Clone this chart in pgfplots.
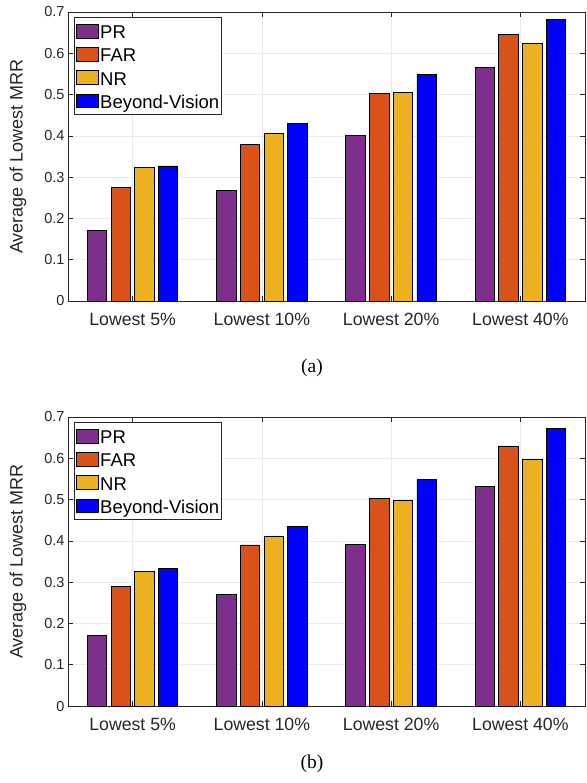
\documentclass[border=0pt]{standalone}
\usepackage{pgfplots}
\pgfplotsset{compat=1.18}
\usepackage{fontspec}
\setmainfont{Liberation Sans}
\newfontfamily\capfont{Liberation Serif}
\definecolor{mpurple}{HTML}{7E2F8E}
\definecolor{morange}{HTML}{D95319}
\definecolor{myellow}{HTML}{EDB120}
\definecolor{mblue}{HTML}{0000FF}
\definecolor{axgray}{HTML}{262626}
\definecolor{gridgray}{HTML}{EBEBEB}
\pgfplotsset{
  mybar/.style={fill=#1, draw=black, line width=0.8pt,
    legend image code/.code={\draw[##1] (0pt,-6.8pt) rectangle (22.6pt,6.8pt);}},
  myaxis/.style={
    scale only axis, width=517pt, height=289pt,
    ybar=4.3pt, bar width=19.4pt,
    xmin=0.5, xmax=4.5, ymin=0, ymax=0.7,
    xtick={1,2,3,4},
    xticklabels={Lowest 5\%, Lowest 10\%, Lowest 20\%, Lowest 40\%},
    ytick={0,0.1,...,0.7},
    yticklabels={0,0.1,0.2,0.3,0.4,0.5,0.6,0.7},
    xmajorgrids, ymajorgrids,
    major grid style={gridgray, line width=0.6pt},
    axis line style={axgray, line width=0.8pt},
    tick style={axgray, line width=0.6pt},
    major tick length=5pt,
    tick align=inside,
    x tick label style={font=\fontsize{17.7}{20}\selectfont, text=axgray, yshift=-8.5pt},
    y tick label style={font=\fontsize{14.5}{17}\selectfont, text=axgray},
    ylabel={Average of Lowest MRR},
    every axis y label/.style={at={(axis description cs:-0.0967,0.5)}, rotate=90, anchor=center,
      font=\fontsize{18}{21}\selectfont, text=axgray},
    legend cell align=left,
    legend style={at={(rel axis cs:0.0116,0.9817)}, anchor=north west,
      draw=axgray, line width=0.7pt, fill=white,
      font=\fontsize{18.5}{21}\selectfont,
      inner xsep=1.5pt, inner ysep=2pt, row sep=0.2pt,
      nodes={inner xsep=1pt, inner ysep=0pt, text height=19pt, text depth=4pt}},
  }
}
\begin{document}
\begin{tikzpicture}
\path[use as bounding box] (0pt,0pt) rectangle (586pt,-783pt);
\begin{axis}[myaxis, at={(68pt,-301pt)}, anchor=south west]
\addplot[mybar=mpurple] coordinates {(1,0.170) (2,0.268) (3,0.400) (4,0.565)};
\addplot[mybar=morange] coordinates {(1,0.275) (2,0.379) (3,0.502) (4,0.645)};
\addplot[mybar=myellow] coordinates {(1,0.324) (2,0.407) (3,0.506) (4,0.625)};
\addplot[mybar=mblue] coordinates {(1,0.327) (2,0.430) (3,0.549) (4,0.682)};
\legend{PR,FAR,NR,Beyond-Vision}
\end{axis}
\begin{axis}[myaxis, at={(68pt,-706pt)}, anchor=south west]
\addplot[mybar=mpurple] coordinates {(1,0.171) (2,0.271) (3,0.391) (4,0.532)};
\addplot[mybar=morange] coordinates {(1,0.289) (2,0.390) (3,0.503) (4,0.630)};
\addplot[mybar=myellow] coordinates {(1,0.327) (2,0.412) (3,0.497) (4,0.597)};
\addplot[mybar=mblue] coordinates {(1,0.333) (2,0.435) (3,0.548) (4,0.673)};
\legend{PR,FAR,NR,Beyond-Vision}
\end{axis}
\node[font=\capfont\fontsize{19.5}{22}\selectfont] at (312pt,-368pt) {(a)};
\node[font=\capfont\fontsize{19.5}{22}\selectfont] at (312pt,-764pt) {(b)};
\end{tikzpicture}
\end{document}
